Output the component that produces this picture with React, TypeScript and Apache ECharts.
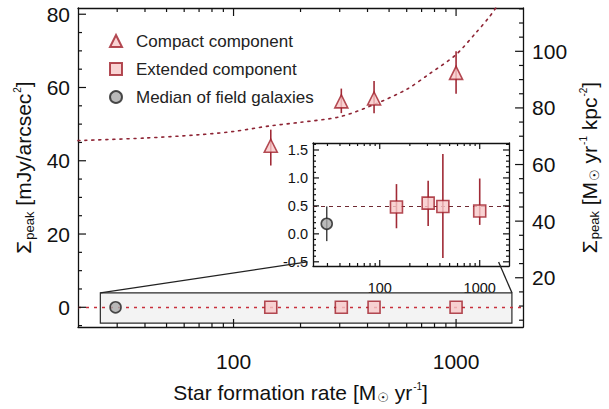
import React, { useEffect, useRef } from 'react';
import * as echarts from 'echarts';

// ---- data ----
const sfr = [147, 305, 428, 1000];
const compactPeak = [44.1, 56.2, 57.0, 64.0];
const compactLow = [38.7, 53.0, 53.0, 58.3];
const compactHigh = [48.5, 59.7, 61.8, 69.9];
const extendedMain = [0, 0, 0, 0];
const fieldSfr = [29.5];
const fieldMain = [0];

const extendedInset = [0.48, 0.55, 0.49, 0.41];
const extendedInsetLow = [0.1, 0.14, -0.43, 0.16];
const extendedInsetHigh = [0.89, 0.95, 1.43, 0.99];
const fieldInset = [0.18];
const fieldInsetLow = [-0.13];
const fieldInsetHigh = [0.49];

const curveSfr = [20, 40, 70, 100, 145, 200, 300, 430, 600, 750, 1000, 1230, 1400, 1540];
const curveValue = [45.5, 46.2, 47.1, 48.0, 49.5, 50.5, 52.0, 55.4, 59.5, 63.5, 69.0, 75.0, 79.0, 82.5];

const xMajorTicks = [100, 1000];
const xMinorTicks = [30, 40, 50, 60, 70, 80, 90, 200, 300, 400, 500, 600, 700, 800, 900];
const yLeftMajor = [0, 20, 40, 60, 80];
const yLeftMinor = [-5, 5, 10, 15, 25, 30, 35, 45, 50, 55, 65, 70, 75];
const yRightMajor = [20, 40, 60, 80, 100];
const yRightMinor = [5, 10, 15, 25, 30, 35, 45, 50, 55, 65, 70, 75, 85, 90, 95, 105, 110, 115];
const insetYMajor = [-0.5, 0, 0.5, 1.0, 1.5];
const insetYMinor = [-0.4, -0.3, -0.2, -0.1, 0.1, 0.2, 0.3, 0.4, 0.6, 0.7, 0.8, 0.9, 1.1, 1.2, 1.3, 1.4, 1.6];

// axis ranges
const mainX = [20, 2000];
const mainY = [-5.38, 81.7];
const rightY = [2.6, 115.3];
const insetX = [21.5, 1963];
const insetY = [-0.575, 1.625];

// zoom box (main data coordinates) and inset corners in main data coordinates
const zoomBox = { x0: 25.2, x1: 1782, y0: -4.3, y1: 3.95 };
const insetCorners = { x0: 215, x1: 1553, y: 12.37 };

const FONT = '"Liberation Sans", Arial, Helvetica, sans-serif';
const INK = '#111111';
const RED = '#a01f2b';
const PINK = '#f7c8c8';
const TICK_STYLE = { stroke: '#111111', lineWidth: 1.2 };

function makeAxis(o: any) {
  const ax: any = {
    type: o.type,
    gridIndex: o.gridIndex,
    position: o.position,
    min: o.min,
    max: o.max,
    axisLine: { show: true, onZero: false, lineStyle: { color: INK, width: 1.3 } },
    axisTick: { show: false },
    axisLabel: o.labels
      ? {
          show: true,
          customValues: o.labels,
          fontSize: o.fontSize,
          margin: o.margin,
          color: INK,
          fontFamily: FONT,
          formatter: o.formatter,
        }
      : { show: false },
    splitLine: { show: false },
  };
  if (o.type === 'log') ax.logBase = 10;
  if (o.name) {
    ax.name = o.name;
    ax.nameLocation = 'middle';
    ax.nameGap = o.nameGap;
    if (o.nameRotate !== undefined) ax.nameRotate = o.nameRotate;
    ax.nameTextStyle = {
      fontSize: 21,
      fontFamily: FONT,
      color: INK,
      rich: {
        sub: { fontSize: 13, fontFamily: FONT, color: INK, padding: [11, 0, 0, 1] },
        sup: { fontSize: 10, fontFamily: FONT, color: INK, padding: [0, 0, 12, 1] },
        sun: { fontSize: 13, fontFamily: '"DejaVu Sans", sans-serif', color: INK, padding: [11, 0, 0, 1] },
      },
    };
  }
  return ax;
}

// inward tick marks on the x axis (bottom and top), placed through the axis scale
function xTicks(xIdx: number, yIdx: number, values: number[], yRange: number[], len: number) {
  return {
    type: 'custom',
    xAxisIndex: xIdx,
    yAxisIndex: yIdx,
    silent: true,
    clip: false,
    z: 20,
    data: values.map((v) => [v, yRange[0]]),
    encode: { x: 0, y: 1 },
    renderItem: (params: any, api: any) => {
      const v = api.value(0);
      const b = api.coord([v, yRange[0]]);
      const t = api.coord([v, yRange[1]]);
      return {
        type: 'group',
        children: [
          { type: 'line', shape: { x1: b[0], y1: b[1], x2: b[0], y2: b[1] - len }, style: TICK_STYLE },
          { type: 'line', shape: { x1: t[0], y1: t[1], x2: t[0], y2: t[1] + len }, style: TICK_STYLE },
        ],
      };
    },
  };
}

// inward tick marks on y axes; sides: 'left' | 'right' | 'both'
function yTicks(xIdx: number, yIdx: number, values: number[], xRange: number[], len: number, sides: string) {
  return {
    type: 'custom',
    xAxisIndex: xIdx,
    yAxisIndex: yIdx,
    silent: true,
    clip: false,
    z: 20,
    data: values.map((v) => [xRange[0], v]),
    encode: { x: 0, y: 1 },
    renderItem: (params: any, api: any) => {
      const v = api.value(1);
      const l = api.coord([xRange[0], v]);
      const r = api.coord([xRange[1], v]);
      const children: any[] = [];
      if (sides !== 'right') {
        children.push({ type: 'line', shape: { x1: l[0], y1: l[1], x2: l[0] + len, y2: l[1] }, style: TICK_STYLE });
      }
      if (sides !== 'left') {
        children.push({ type: 'line', shape: { x1: r[0], y1: r[1], x2: r[0] - len, y2: r[1] }, style: TICK_STYLE });
      }
      return { type: 'group', children };
    },
  };
}

function errorBarRender(color: string, width: number) {
  return (params: any, api: any) => {
    const x = api.value(0);
    const p1 = api.coord([x, api.value(1)]);
    const p2 = api.coord([x, api.value(2)]);
    return {
      type: 'line',
      shape: { x1: p1[0], y1: p1[1], x2: p2[0], y2: p2[1] },
      style: { stroke: color, lineWidth: width },
    };
  };
}

const intFmt = (v: number) => String(Math.round(v));

export default function App() {
  const ref = useRef<HTMLDivElement>(null);

  useEffect(() => {
    if (!ref.current) return;
    const chart = echarts.init(ref.current, undefined, { renderer: 'svg' });

    const triangleStyle = { color: PINK, borderColor: RED, borderWidth: 1.6 };
    const circleStyle = { color: '#a9a9a9', borderColor: '#222', borderWidth: 1.6 };

    const option: any = {
      animation: false,
      grid: [
        { left: 78, top: 8, width: 456, height: 324, show: false },
        { left: 313, top: 143, width: 196, height: 123, show: true, backgroundColor: '#ffffff', borderWidth: 0 },
      ],
      legend: {
        data: ['Compact component', 'Extended component', 'Median of field galaxies'],
        orient: 'vertical',
        left: 104,
        top: 26,
        itemWidth: 12,
        itemHeight: 12,
        itemGap: 8,
        textStyle: { fontSize: 17, color: '#222', fontFamily: FONT, lineHeight: 20, padding: [0, 0, 0, 9] },
        selectedMode: false,
      },
      xAxis: [
        makeAxis({ type: 'log', gridIndex: 0, position: 'bottom', min: mainX[0], max: mainX[1],
          labels: xMajorTicks, fontSize: 21, margin: 24, formatter: intFmt,
          name: 'Star formation rate [M{sun|☉} yr{sup|-1}]', nameGap: 53 }),
        makeAxis({ type: 'log', gridIndex: 0, position: 'top', min: mainX[0], max: mainX[1] }),
        makeAxis({ type: 'log', gridIndex: 1, position: 'bottom', min: insetX[0], max: insetX[1],
          labels: xMajorTicks, fontSize: 14.5, margin: 14, formatter: intFmt }),
        makeAxis({ type: 'log', gridIndex: 1, position: 'top', min: insetX[0], max: insetX[1] }),
      ],
      yAxis: [
        makeAxis({ type: 'value', gridIndex: 0, position: 'left', min: mainY[0], max: mainY[1],
          labels: yLeftMajor, fontSize: 21, margin: 8, formatter: intFmt,
          name: 'Σ{sub|peak} [mJy/arcsec{sup|2}]', nameGap: 29, nameRotate: 90 }),
        makeAxis({ type: 'value', gridIndex: 0, position: 'right', min: rightY[0], max: rightY[1],
          labels: yRightMajor, fontSize: 21, margin: 9, formatter: intFmt,
          name: 'Σ{sub|peak} [M{sun|☉} yr{sup|-1} kpc{sup|-2}]', nameGap: 47, nameRotate: 90 }),
        makeAxis({ type: 'value', gridIndex: 1, position: 'left', min: insetY[0], max: insetY[1],
          labels: insetYMajor, fontSize: 14.5, margin: 5, formatter: (v: number) => v.toFixed(1) }),
        makeAxis({ type: 'value', gridIndex: 1, position: 'right', min: insetY[0], max: insetY[1] }),
      ],
      series: [
        // tick marks
        xTicks(0, 0, xMajorTicks, mainY, 8),
        xTicks(0, 0, xMinorTicks, mainY, 4),
        yTicks(0, 0, yLeftMajor, mainX, 8, 'left'),
        yTicks(0, 0, yLeftMinor, mainX, 4, 'left'),
        yTicks(0, 1, yRightMajor, mainX, 8, 'right'),
        yTicks(0, 1, yRightMinor, mainX, 4, 'right'),
        xTicks(2, 2, xMajorTicks, insetY, 6),
        xTicks(2, 2, xMinorTicks, insetY, 3),
        yTicks(2, 2, insetYMajor, insetX, 6, 'both'),
        yTicks(2, 2, insetYMinor, insetX, 3, 'both'),
        // zoom box
        {
          type: 'line',
          xAxisIndex: 0,
          yAxisIndex: 0,
          data: [],
          z: 1,
          silent: true,
          markArea: {
            silent: true,
            itemStyle: { color: '#f3f3f3', borderColor: '#2a2a2a', borderWidth: 1.2 },
            data: [[{ coord: [zoomBox.x0, zoomBox.y1] }, { coord: [zoomBox.x1, zoomBox.y0] }]],
          },
        },
        // zero line and connectors
        {
          type: 'line',
          xAxisIndex: 0,
          yAxisIndex: 0,
          data: [],
          z: 2,
          silent: true,
          markLine: {
            silent: true,
            symbol: ['none', 'none'],
            label: { show: false },
            data: [
              { yAxis: 0, lineStyle: { color: '#c8303c', type: [3, 5], width: 1.3 } },
              [
                { coord: [zoomBox.x0, zoomBox.y1], lineStyle: { color: '#222', type: 'solid', width: 1.3 } },
                { coord: [insetCorners.x0, insetCorners.y] },
              ],
              [
                { coord: [zoomBox.x1, zoomBox.y1], lineStyle: { color: '#222', type: 'solid', width: 1.3 } },
                { coord: [insetCorners.x1, insetCorners.y] },
              ],
            ],
          },
        },
        // dotted model curve
        {
          type: 'line',
          xAxisIndex: 0,
          yAxisIndex: 0,
          data: curveSfr.map((s, i) => [s, curveValue[i]]),
          showSymbol: false,
          smooth: 0.3,
          clip: true,
          lineStyle: { color: '#8e2434', width: 1.6, type: [2, 5], cap: 'round' },
          z: 2,
        },
        {
          type: 'custom',
          xAxisIndex: 0,
          yAxisIndex: 0,
          data: sfr.map((s, i) => [s, compactLow[i], compactHigh[i]]),
          encode: { x: 0, y: [1, 2] },
          renderItem: errorBarRender('#a02a36', 1.6),
          z: 3,
        },
        {
          name: 'Compact component',
          type: 'scatter',
          xAxisIndex: 0,
          yAxisIndex: 0,
          symbol: 'triangle',
          symbolSize: 13,
          data: sfr.map((s, i) => [s, compactPeak[i]]),
          itemStyle: triangleStyle,
          z: 5,
        },
        {
          name: 'Extended component',
          type: 'scatter',
          xAxisIndex: 0,
          yAxisIndex: 0,
          symbol: 'rect',
          symbolSize: 12,
          data: sfr.map((s, i) => [s, extendedMain[i]]),
          itemStyle: triangleStyle,
          z: 5,
        },
        {
          name: 'Median of field galaxies',
          type: 'scatter',
          xAxisIndex: 0,
          yAxisIndex: 0,
          symbol: 'circle',
          symbolSize: 11,
          data: fieldSfr.map((s, i) => [s, fieldMain[i]]),
          itemStyle: circleStyle,
          z: 5,
        },
        // inset
        {
          type: 'line',
          xAxisIndex: 2,
          yAxisIndex: 2,
          data: [],
          z: 4,
          markLine: {
            silent: true,
            symbol: ['none', 'none'],
            label: { show: false },
            data: [{ yAxis: 0.5, lineStyle: { color: '#6e2a32', type: [4, 4], width: 1.2 } }],
          },
        },
        {
          type: 'custom',
          xAxisIndex: 2,
          yAxisIndex: 2,
          data: sfr.map((s, i) => [s, extendedInsetLow[i], extendedInsetHigh[i]]),
          encode: { x: 0, y: [1, 2] },
          renderItem: errorBarRender('#a02a36', 1.6),
          z: 5,
        },
        {
          type: 'custom',
          xAxisIndex: 2,
          yAxisIndex: 2,
          data: fieldSfr.map((s, i) => [s, fieldInsetLow[i], fieldInsetHigh[i]]),
          encode: { x: 0, y: [1, 2] },
          renderItem: errorBarRender('#444', 1.5),
          z: 5,
        },
        {
          name: 'Extended component',
          type: 'scatter',
          xAxisIndex: 2,
          yAxisIndex: 2,
          symbol: 'rect',
          symbolSize: 12,
          data: sfr.map((s, i) => [s, extendedInset[i]]),
          itemStyle: triangleStyle,
          z: 6,
        },
        {
          name: 'Median of field galaxies',
          type: 'scatter',
          xAxisIndex: 2,
          yAxisIndex: 2,
          symbol: 'circle',
          symbolSize: 11,
          data: fieldSfr.map((s, i) => [s, fieldInset[i]]),
          itemStyle: circleStyle,
          z: 6,
        },
      ],
    };

    chart.setOption(option);
    return () => chart.dispose();
  }, []);

  return (
    <div
      ref={ref}
      style={{ position: 'fixed', left: 0, top: 0, width: 609, height: 409, background: '#fff' }}
    />
  );
}
